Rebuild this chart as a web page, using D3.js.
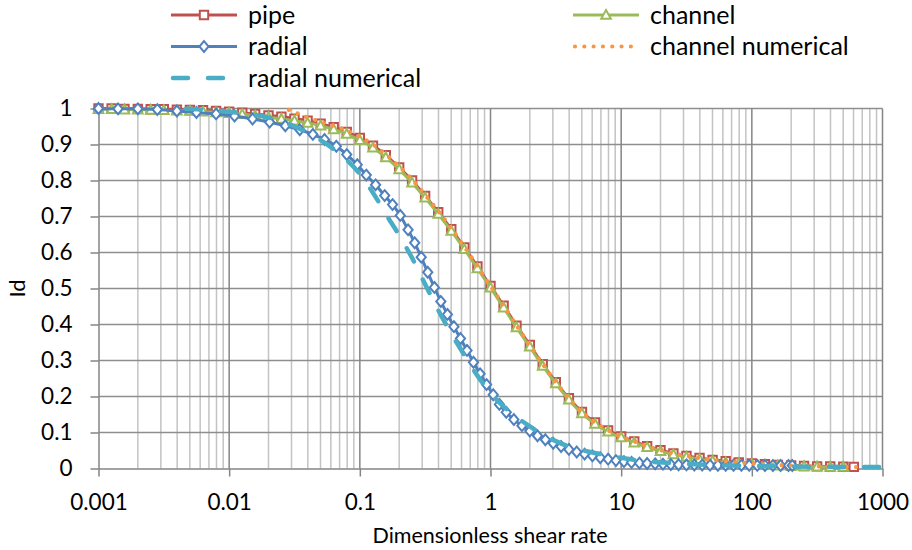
<!DOCTYPE html>
<html>
<head>
<meta charset="utf-8">
<script src="https://cdn.jsdelivr.net/npm/d3@7"></script>
<style>
  html, body { margin: 0; padding: 0; background: #fff; }
  svg { display: block; font-family: Lato, "Open Sans", sans-serif; }
</style>
</head>
<body>
<svg id="chart" width="912" height="550"></svg>
<script>
// ---- axis ticks ----
const xTicks = [0.001, 0.01, 0.1, 1, 10, 100, 1000];
const xTickLabels = ["0.001", "0.01", "0.1", "1", "10", "100", "1000"];
const yTicks = [0, 0.1, 0.2, 0.3, 0.4, 0.5, 0.6, 0.7, 0.8, 0.9, 1];
const yTickLabels = ["0", "0.1", "0.2", "0.3", "0.4", "0.5", "0.6", "0.7", "0.8", "0.9", "1"];
const xTitle = "Dimensionless shear rate";
const yTitle = "Id";

// ---- series ----
const seriesNames = ["pipe", "channel", "radial", "channel numerical", "radial numerical"];

// shear rates shared by the analytic pipe / channel curves
const shearAnalytic = [
  0.001, 0.00126, 0.00158, 0.002, 0.00251, 0.00316, 0.00398, 0.00501, 0.00631, 0.00794,
  0.01, 0.0126, 0.0158, 0.02, 0.0251, 0.0316, 0.0398, 0.0501, 0.0631, 0.0794,
  0.1, 0.126, 0.158, 0.2, 0.251, 0.316, 0.398, 0.501, 0.631, 0.794,
  1, 1.26, 1.58, 2, 2.51, 3.16, 3.98, 5.01, 6.31, 7.94,
  10, 12.6, 15.8, 20, 25.1, 31.6, 39.8, 50.1, 63.1, 79.4,
  100, 126, 158, 200, 251, 316, 398, 501, 603
];
const idPipe = [
  1.000, 1.000, 0.999, 0.999, 0.998, 0.998, 0.997, 0.996, 0.995, 0.993,
  0.991, 0.988, 0.985, 0.981, 0.977, 0.972, 0.966, 0.958, 0.948, 0.935,
  0.918, 0.897, 0.870, 0.836, 0.800, 0.757, 0.712, 0.665, 0.614, 0.561,
  0.507, 0.452, 0.397, 0.343, 0.290, 0.240, 0.195, 0.157, 0.128, 0.106,
  0.089, 0.075, 0.062, 0.051, 0.042, 0.035, 0.029, 0.024, 0.020, 0.017,
  0.014, 0.012, 0.010, 0.0085, 0.007, 0.006, 0.0055, 0.005, 0.0045
];
const idChannel = [
  0.998, 0.998, 0.997, 0.997, 0.996, 0.995, 0.994, 0.993, 0.991, 0.989,
  0.987, 0.984, 0.980, 0.976, 0.971, 0.966, 0.960, 0.952, 0.942, 0.929,
  0.912, 0.891, 0.864, 0.831, 0.794, 0.752, 0.707, 0.660, 0.609, 0.556,
  0.502, 0.447, 0.392, 0.338, 0.285, 0.236, 0.191, 0.153, 0.124, 0.102,
  0.086, 0.072, 0.059, 0.048, 0.039, 0.032, 0.026, 0.021, 0.017, 0.014,
  0.012, 0.010, 0.008, 0.007, 0.006, 0.005, 0.004, 0.004
];

const shearRadial = [
  0.001, 0.00141, 0.002, 0.00282, 0.00398, 0.00562, 0.00794, 0.011, 0.0151, 0.0204,
  0.0269, 0.0347, 0.0437, 0.0537, 0.0661, 0.0794, 0.0955, 0.112, 0.132, 0.155,
  0.178, 0.204, 0.234, 0.263, 0.295, 0.331, 0.372, 0.417, 0.468, 0.525,
  0.589, 0.661, 0.741, 0.832, 0.933, 1.05, 1.17, 1.32, 1.51, 1.74,
  2.0, 2.29, 2.63, 3.02, 3.47, 3.98, 4.57, 5.25, 6.03, 6.92,
  7.94, 9.12, 10.5, 12.0, 13.8, 15.8, 18.2, 20.9, 24.0, 27.5,
  31.6, 36.3, 41.7, 47.9, 55.0, 63.1, 72.4, 83.2, 95.5, 110,
  126, 145, 166, 191, 204
];
const idRadial = [
  1.000, 0.999, 0.999, 0.997, 0.993, 0.989, 0.985, 0.979, 0.971, 0.962,
  0.952, 0.941, 0.928, 0.914, 0.895, 0.872, 0.844, 0.815, 0.788, 0.758,
  0.733, 0.703, 0.663, 0.627, 0.587, 0.545, 0.503, 0.464, 0.428, 0.394,
  0.361, 0.328, 0.295, 0.263, 0.233, 0.205, 0.178, 0.156, 0.136, 0.119,
  0.104, 0.091, 0.080, 0.070, 0.061, 0.053, 0.046, 0.040, 0.035, 0.030,
  0.026, 0.022, 0.019, 0.017, 0.015, 0.014, 0.013, 0.012, 0.011, 0.0105,
  0.010, 0.0098, 0.0095, 0.0093, 0.0091, 0.009, 0.0089, 0.0088, 0.0087, 0.0086,
  0.0085, 0.0085, 0.0084, 0.0084, 0.0083
];

const shearChannelNum = [
  0.0287, 0.0316, 0.0398, 0.0501, 0.0631, 0.0794,
  0.1, 0.126, 0.158, 0.2, 0.251, 0.316, 0.398, 0.501, 0.631, 0.794,
  1, 1.26, 1.58, 2, 2.51, 3.16, 3.98, 5.01, 6.31, 7.94,
  10, 12.6, 15.8, 20, 25.1, 31.6, 39.8, 50.1, 63.1, 79.4,
  100, 158, 251, 398, 631, 1000
];
const idChannelNum = [
  0.996, 0.990, 0.975, 0.963, 0.952, 0.939,
  0.922, 0.900, 0.873, 0.839, 0.803, 0.760, 0.715, 0.667, 0.616, 0.562,
  0.507, 0.452, 0.397, 0.343, 0.290, 0.240, 0.195, 0.157, 0.128, 0.106,
  0.089, 0.075, 0.062, 0.051, 0.042, 0.035, 0.029, 0.024, 0.020, 0.017,
  0.014, 0.010, 0.007, 0.005, 0.004, 0.003
];

const shearRadialNum = [
  0.00468, 0.00631, 0.00794,
  0.01, 0.0126, 0.0158, 0.02, 0.0251, 0.0316, 0.0398, 0.0501, 0.0631, 0.0794,
  0.1, 0.126, 0.158, 0.2, 0.251, 0.316, 0.398, 0.501, 0.631, 0.794,
  1, 1.26, 1.58, 2, 2.51, 3.16, 3.98, 5.01, 6.31, 7.94,
  10, 12.6, 15.8, 25.1, 39.8, 63.1, 100, 316, 1000
];
const idRadialNum = [
  0.999, 0.997, 0.994,
  0.991, 0.987, 0.982, 0.975, 0.964, 0.950, 0.933, 0.912, 0.887, 0.857,
  0.818, 0.766, 0.707, 0.648, 0.585, 0.512, 0.440, 0.375, 0.315, 0.258,
  0.210, 0.172, 0.143, 0.117, 0.095, 0.076, 0.061, 0.051, 0.043, 0.036,
  0.030, 0.024, 0.020, 0.015, 0.011, 0.009, 0.007, 0.005, 0.004
];

// ---- layout ----
const plot = { left: 98.5, right: 882.5, top: 108.5, bottom: 468.5 };

const svg = d3.select("#chart");
const x = d3.scaleLog().domain([0.001, 1000]).range([plot.left, plot.right]);
const y = d3.scaleLinear().domain([0, 1]).range([plot.bottom, plot.top]);

const colors = {
  pipe: "#c0504d",
  channel: "#9bbb59",
  radial: "#4f81bd",
  channelNum: "#f79646",
  radialNum: "#4bacc6"
};

// ---- gridlines ----
const grid = svg.append("g");
const allLogTicks = x.ticks(60);
grid.selectAll("line.minor")
  .data(allLogTicks.filter(t => !xTicks.some(m => Math.abs(m - t) / m < 1e-6)))
  .join("line")
  .attr("x1", d => x(d)).attr("x2", d => x(d))
  .attr("y1", plot.top).attr("y2", plot.bottom)
  .attr("stroke", "#c3c3c3").attr("stroke-width", 1.5);

grid.selectAll("line.h")
  .data(yTicks.slice(1))
  .join("line")
  .attr("x1", plot.left).attr("x2", plot.right)
  .attr("y1", d => y(d)).attr("y2", d => y(d))
  .attr("stroke", "#8e8e8e").attr("stroke-width", 1.5);

grid.selectAll("line.major")
  .data(xTicks.slice(1))
  .join("line")
  .attr("x1", d => x(d)).attr("x2", d => x(d))
  .attr("y1", plot.top).attr("y2", plot.bottom)
  .attr("stroke", "#858585").attr("stroke-width", 1.5);

// ---- axes ----
const xAxis = d3.axisBottom(x)
  .tickValues(xTicks)
  .tickFormat((d, i) => xTickLabels[i])
  .tickSize(8).tickSizeOuter(0).tickPadding(18);
const gx = svg.append("g").attr("transform", `translate(0,${plot.bottom})`).call(xAxis);
gx.select(".domain").attr("stroke", "#858585").attr("stroke-width", 1.5);
gx.selectAll(".tick line").attr("stroke", "#858585").attr("stroke-width", 1.5);
gx.selectAll(".tick text")
  .attr("fill", "#000").attr("font-size", "22.5px").attr("font-family", "Lato, sans-serif");

const yAxis = d3.axisLeft(y)
  .tickValues(yTicks)
  .tickFormat((d, i) => yTickLabels[i])
  .tickSize(8).tickSizeOuter(0).tickPadding(18);
const gy = svg.append("g").attr("transform", `translate(${plot.left},0)`).call(yAxis);
gy.select(".domain").attr("stroke", "#858585").attr("stroke-width", 1.5);
gy.selectAll(".tick line").attr("stroke", "#858585").attr("stroke-width", 1.5);
gy.selectAll(".tick text")
  .attr("fill", "#000").attr("font-size", "22.5px").attr("font-family", "Lato, sans-serif");

svg.append("text")
  .attr("x", 490).attr("y", 543)
  .attr("text-anchor", "middle").attr("font-size", "21.5px").attr("fill", "#000")
  .text(xTitle);

svg.append("text")
  .attr("transform", `translate(25,${(plot.top + plot.bottom) / 2}) rotate(-90)`)
  .attr("text-anchor", "middle").attr("font-size", "22px").attr("fill", "#000")
  .text(yTitle);

// ---- marker shapes ----
const markerPath = {
  square: "M-4.2,-4.2H4.2V4.2H-4.2Z",
  triangle: "M0,-5L4.8,3.8H-4.8Z",
  diamond: "M0,-5.4L4.6,0L0,5.4L-4.6,0Z"
};

const line = d3.line().x(d => x(d[0])).y(d => y(d[1])).curve(d3.curveMonotoneX);
const pairs = (xs, ys) => ys.map((v, i) => [xs[i], v]);

const series = [
  { key: "pipe", xs: shearAnalytic, ys: idPipe, color: colors.pipe, width: 3, marker: "square" },
  { key: "channel", xs: shearAnalytic, ys: idChannel, color: colors.channel, width: 3, marker: "triangle" },
  { key: "radial", xs: shearRadial, ys: idRadial, color: colors.radial, width: 3, marker: "diamond" },
  { key: "channel numerical", xs: shearChannelNum, ys: idChannelNum, color: colors.channelNum, width: 4.2, dash: "0.01 9.3" },
  { key: "radial numerical", xs: shearRadialNum, ys: idRadialNum, color: colors.radialNum, width: 4.5, dash: "15 20" }
];

const plotG = svg.append("g");
series.forEach(s => {
  const pts = pairs(s.xs, s.ys);
  const g = plotG.append("g");
  g.append("path")
    .datum(pts)
    .attr("d", line)
    .attr("fill", "none")
    .attr("stroke", s.color)
    .attr("stroke-width", s.width)
    .attr("stroke-linecap", s.dash ? "round" : "butt")
    .attr("stroke-linejoin", "round")
    .attr("stroke-dasharray", s.dash || null);
  if (s.marker) {
    g.selectAll("path.m")
      .data(pts)
      .join("path")
      .attr("transform", d => `translate(${x(d[0])},${y(d[1])})`)
      .attr("d", markerPath[s.marker])
      .attr("fill", "#fff")
      .attr("stroke", s.color)
      .attr("stroke-width", 2);
  }
});

// ---- legend ----
const legendCols = [171, 573];
const legendRows = [15, 46.5, 78];
const legendPlace = [[0, 0], [1, 0], [0, 1], [1, 1], [0, 2]];
const legend = svg.append("g");
series.forEach((s, i) => {
  const [c, r] = legendPlace[i];
  const lx = legendCols[c], ly = legendRows[r];
  const g = legend.append("g");
  if (s.dash) {
    g.append("line")
      .attr("x1", lx + 2).attr("x2", lx + (s.key === "radial numerical" ? 55 : 66))
      .attr("y1", ly).attr("y2", ly)
      .attr("stroke", s.color).attr("stroke-width", s.width)
      .attr("stroke-linecap", "round").attr("stroke-dasharray", s.dash);
  } else {
    g.append("line")
      .attr("x1", lx).attr("x2", lx + 66)
      .attr("y1", ly).attr("y2", ly)
      .attr("stroke", s.color).attr("stroke-width", s.width);
    g.append("path")
      .attr("transform", `translate(${lx + 33},${ly})`)
      .attr("d", markerPath[s.marker])
      .attr("fill", "#fff").attr("stroke", s.color).attr("stroke-width", 2);
  }
  g.append("text")
    .attr("x", lx + 77).attr("y", ly + 8.5)
    .attr("font-size", "25px").attr("fill", "#000")
    .text(seriesNames[i]);
});
</script>
</body>
</html>
